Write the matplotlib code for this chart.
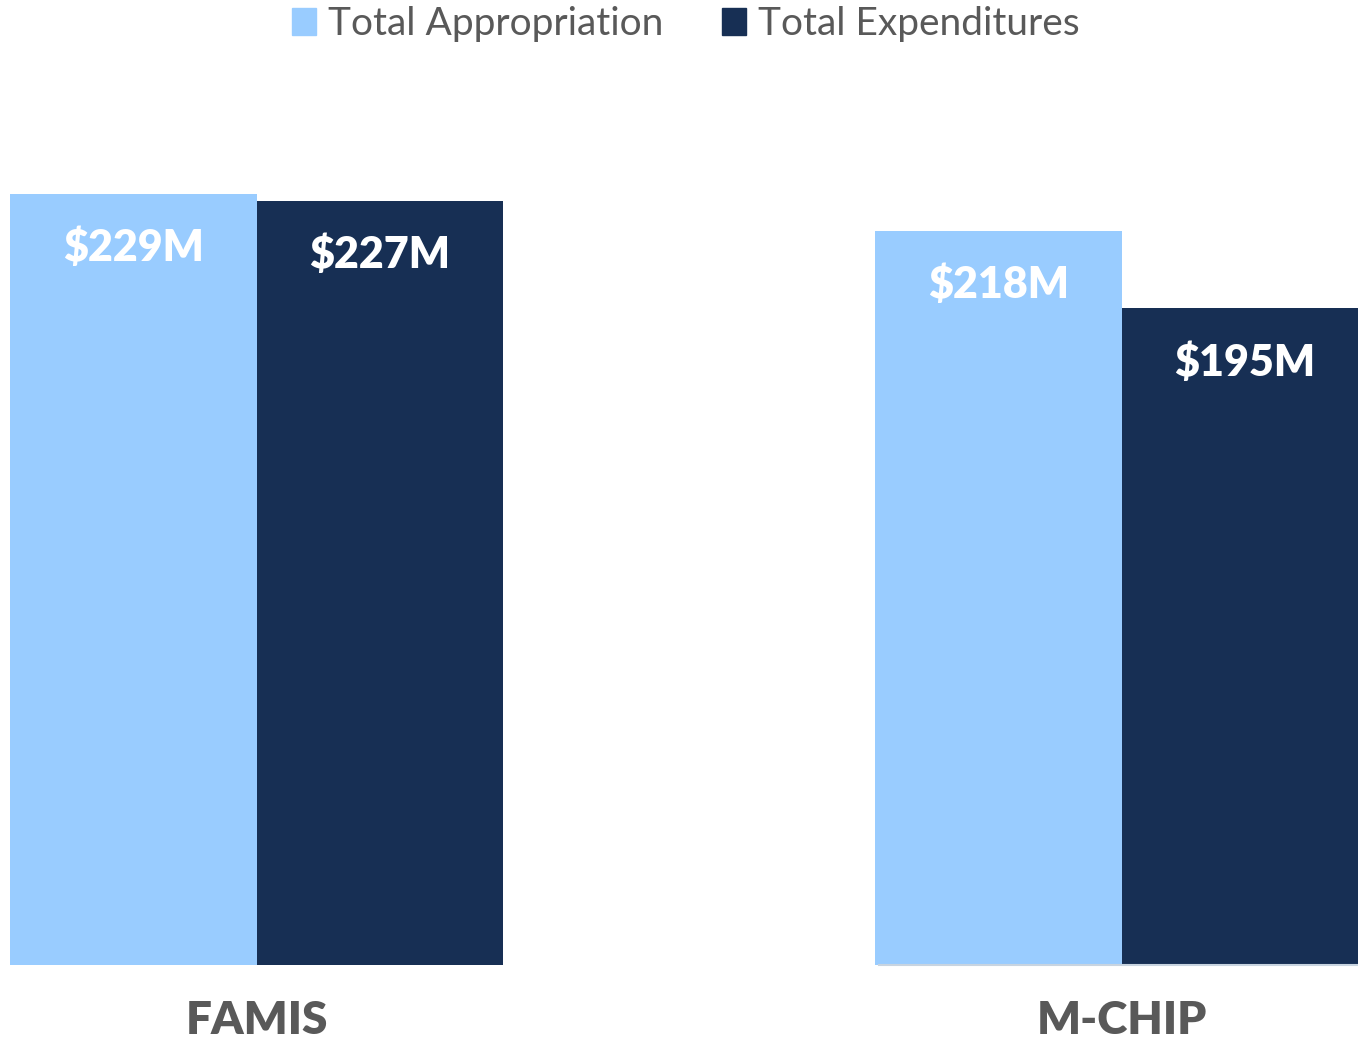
import matplotlib
matplotlib.use("Agg")
import matplotlib.pyplot as plt
from matplotlib.patches import Patch
import numpy as np

categories = ["FAMIS", "M-CHIP"]
series_names = ["Total Appropriation", "Total Expenditures"]
appropriation = [229, 218]
expenditures = [227, 195]
value_labels_app = ["$229M", "$218M"]
value_labels_exp = ["$227M", "$195M"]

c_light = "#99CCFF"
c_dark = "#172F54"
c_text = "#595959"

W, H = 1358, 1038
fig = plt.figure(figsize=(W / 100, H / 100), dpi=100)
ax = fig.add_axes([10 / W, (H - 965) / H, (W - 10) / W, (965 - 100) / H])

x = np.arange(len(categories))
w = 0.285
b1 = ax.bar(x - w / 2, appropriation, w, color=c_light, label=series_names[0])
b2 = ax.bar(x + w / 2, expenditures, w, color=c_dark, label=series_names[1])

ax.set_xlim(-w, 1 + 0.273)
ax.set_ylim(0, 229 * 865 / 771)

for bars, labels in ((b1, value_labels_app), (b2, value_labels_exp)):
    for rect, lab in zip(bars, labels):
        ax.annotate(lab, (rect.get_x() + rect.get_width() / 2, rect.get_height()),
                    xytext=(0, -54), textcoords="offset pixels",
                    ha="center", va="center", color="white",
                    fontsize=31, fontweight="heavy", family="Lato")

ax.set_xticks(x)
ax.set_xticklabels(categories, fontsize=33, fontweight="heavy", family="Lato", color=c_text)
ax.tick_params(axis="x", length=0, pad=25)
ax.set_yticks([])
for s in ax.spines.values():
    s.set_visible(False)

# light baseline under second group
ax.plot([0.645, 1.0], [0, 0], transform=ax.transAxes, color="#C8D4E0", lw=1.5, clip_on=False)

handles = [Patch(color=c_light), Patch(color=c_dark)]
fig.legend(handles, series_names, loc="center", bbox_to_anchor=(0.505, 1 - 24 / H),
           ncol=2, frameon=False, prop={"family": "Lato", "size": 28},
           labelcolor=c_text, handlelength=0.62, handleheight=0.7,
           handletextpad=0.3, columnspacing=1.5)

fig.savefig("out.png", dpi=100, facecolor="white")
